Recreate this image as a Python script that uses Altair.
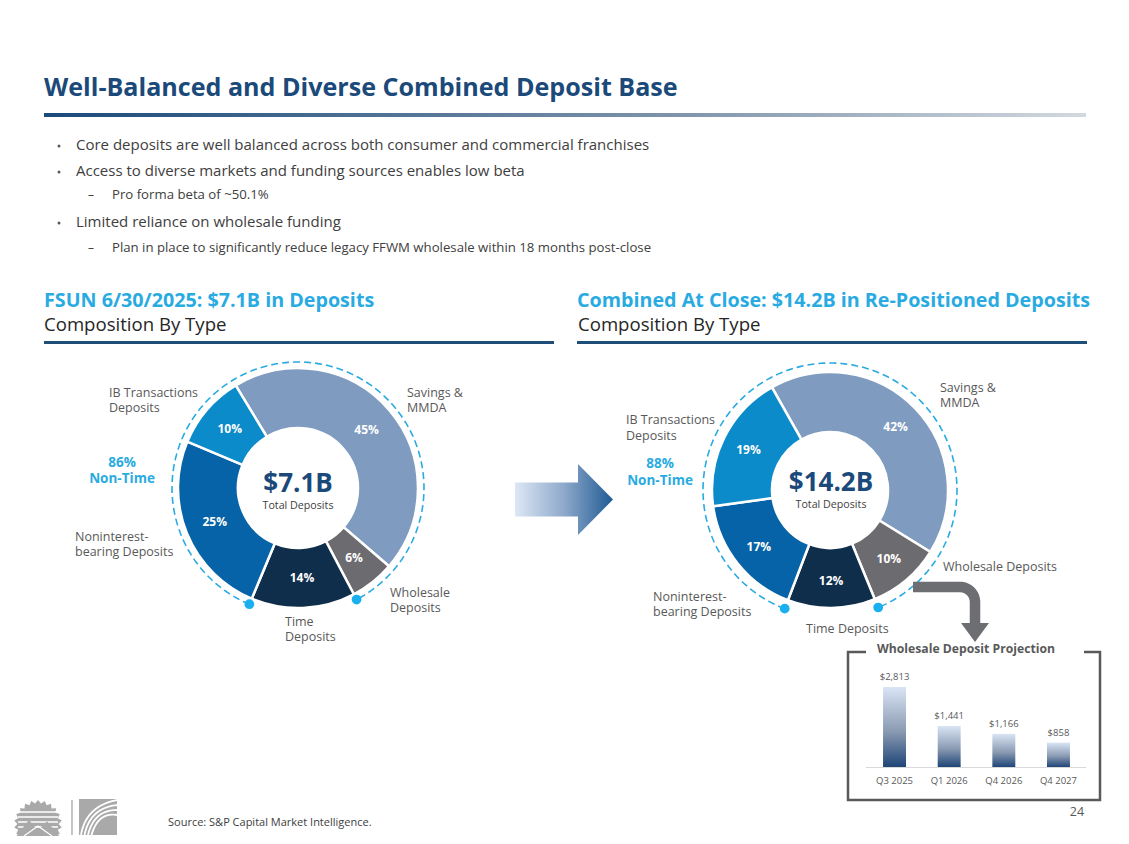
import math
import numpy as np
import pandas as pd
import altair as alt

OFF = 8
W, H = 1113, 828
FONT = "Open Sans"


def P(v):
    return v - OFF


# ---------------- data ----------------
deposit_types = ["Savings & MMDA", "Wholesale Deposits", "Time Deposits",
                 "Noninterest-bearing Deposits", "IB Transactions Deposits"]
fsun_share = [45, 6, 14, 25, 10]
combined_share = [42, 10, 12, 17, 19]
type_colors = ["#7f9bc0", "#6c6c70", "#0f2e4b", "#0763a7", "#0b8bc9"]

quarters = ["Q3 2025", "Q1 2026", "Q4 2026", "Q4 2027"]
wholesale_projection = [2813, 1441, 1166, 858]

bullet_main = [
    (145, "Core deposits are well balanced across both consumer and commercial franchises"),
    (171, "Access to diverse markets and funding sources enables low beta"),
    (222, "Limited reliance on wholesale funding"),
]
bullet_sub = [
    (195, "Pro forma beta of ~50.1%"),
    (248, "Plan in place to significantly reduce legacy FFWM wholesale within 18 months post-close"),
]

NAVY = "#1b4a7a"
SKY = "#29abe2"
GRAY = "#595959"


def text_layer(items, size, color, weight="normal", align="left", font=FONT):
    df = pd.DataFrame(items, columns=["x", "y", "t"])
    df["x"] = df["x"] - OFF
    df["y"] = df["y"] - OFF
    return alt.Chart(df).mark_text(
        font=font, fontSize=size, color=color, fontWeight=weight,
        align=align, baseline="middle"
    ).encode(
        x=alt.X("x:Q", scale=None, axis=None),
        y=alt.Y("y:Q", scale=None, axis=None),
        text="t:N",
    )


def path_layer(pts, color, width, dash=None, interp="linear"):
    df = pd.DataFrame(pts, columns=["x", "y"])
    df["x"] = df["x"] - OFF
    df["y"] = df["y"] - OFF
    df["i"] = range(len(df))
    kw = dict(color=color, strokeWidth=width, interpolate=interp, strokeCap="butt")
    if dash is not None:
        kw["strokeDash"] = dash
    return alt.Chart(df).mark_line(**kw).encode(
        x=alt.X("x:Q", scale=None, axis=None),
        y=alt.Y("y:Q", scale=None, axis=None),
        order="i:Q",
    )


def rect(x0, x1, y0, y1, fill):
    return alt.Chart().mark_rect(fill=fill).encode(
        x=alt.value(P(x0)), x2=alt.value(P(x1)), y=alt.value(P(y0)), y2=alt.value(P(y1)))


def symbol(cx, cy, shape, half, fill):
    return alt.Chart().mark_point(
        shape=shape, size=(2 * half) ** 2, filled=True, fill=fill, opacity=1, strokeWidth=0
    ).encode(x=alt.value(P(cx)), y=alt.value(P(cy)))


layers = []

# ---------------- title ----------------
layers.append(text_layer([(44, 88, "Well-Balanced and Diverse Combined Deposit Base")], 25.1, NAVY, "bold"))
title_grad = alt.Gradient(
    gradient="linear",
    stops=[alt.GradientStop(color="#1b4a7a", offset=0),
           alt.GradientStop(color="#7d93ab", offset=0.6),
           alt.GradientStop(color="#d3d9df", offset=1)],
    x1=0, x2=1, y1=0, y2=0)
layers.append(rect(44, 1086, 113, 117, title_grad))

# ---------------- bullets ----------------
bullet_dots = pd.DataFrame({"x": [59 - OFF] * len(bullet_main), "y": [y + 1 - OFF for y, _ in bullet_main]})
layers.append(alt.Chart(bullet_dots).mark_circle(size=9, color="#595959", opacity=1).encode(
    x=alt.X("x:Q", scale=None, axis=None), y=alt.Y("y:Q", scale=None, axis=None)))
layers.append(text_layer([(76, y, t) for y, t in bullet_main], 15, "#404040"))
layers.append(text_layer([(88, y, "–") for y, _ in bullet_sub], 12, "#404040"))
layers.append(text_layer([(112, y, t) for y, t in bullet_sub], 13.2, "#404040"))

# ---------------- section headers ----------------
layers.append(text_layer([(44, 301, "FSUN 6/30/2025: $7.1B in Deposits"),
                          (577, 301, "Combined At Close: $14.2B in Re-Positioned Deposits")],
                         19.7, SKY, "bold"))
layers.append(text_layer([(44, 325, "Composition By Type"), (578, 325, "Composition By Type")],
                         18.6, "#262626"))
layers.append(rect(44, 554, 341, 344, "#1f4e79"))
layers.append(rect(577, 1087, 341, 344, "#1f4e79"))


# ---------------- donuts ----------------
def donut(shares, cx, cy, r_in, r_out, start_deg, lab_r, ring_r):
    df = pd.DataFrame({
        "type": deposit_types, "share": shares, "ord": list(range(len(shares))),
        "col": type_colors, "lbl": [f"{s}%" for s in shares]})
    start = math.radians(start_deg) + 2 * math.pi
    theta = alt.Theta("share:Q", stack=True,
                      scale=alt.Scale(domain=[0, sum(shares)], range=[start, start + 2 * math.pi]))
    base = alt.Chart(df).encode(theta=theta, order=alt.Order("ord:Q"),
                                x=alt.value(P(cx)), y=alt.value(P(cy)))
    out = [
        base.mark_arc(innerRadius=r_in, outerRadius=r_out, stroke="white", strokeWidth=2.5)
        .encode(fill=alt.Fill("col:N", scale=None)),
        base.mark_text(radius=lab_r, font=FONT, fontSize=12, fontWeight="bold", color="white")
        .encode(text="lbl:N"),
    ]
    # dashed ring around the non-time share
    cum = np.cumsum([0] + list(shares)) * 360.0 / sum(shares)
    t_start = start_deg + cum[2]
    t_end = start_deg + cum[3]
    ang = np.radians(np.linspace(t_end, t_start + 360, 240))
    pts = list(zip(cx + ring_r * np.sin(ang), cy - ring_r * np.cos(ang)))
    out.append(path_layer(pts, SKY, 1.6, dash=[7, 4]))
    dots = pd.DataFrame([pts[0], pts[-1]], columns=["x", "y"]) - OFF
    out.append(alt.Chart(dots).mark_circle(size=95, color="#1ab0ef", opacity=1).encode(
        x=alt.X("x:Q", scale=None, axis=None), y=alt.Y("y:Q", scale=None, axis=None)))
    return out


layers += donut(fsun_share, 298, 488, 60, 120, -31.3, 90, 126)
layers += donut(combined_share, 830, 490, 58, 118, -29.5, 91, 127)

# centre texts
layers.append(text_layer([(298, 484, "$7.1B"), (831, 483, "$14.2B")], 26, NAVY, "bold", "center"))
layers.append(text_layer([(298, 506, "Total Deposits"), (831, 505, "Total Deposits")], 10.7, "#404040",
                         "normal", "center"))

# category labels
layers.append(text_layer([
    (109, 393, "IB Transactions"), (109, 408, "Deposits"),
    (407, 393, "Savings &"), (407, 408, "MMDA"),
    (75, 537, "Noninterest-"), (75, 552, "bearing Deposits"),
    (390, 593, "Wholesale"), (390, 608, "Deposits"),
    (285, 622, "Time"), (285, 637, "Deposits"),
    (940, 388, "Savings &"), (940, 403, "MMDA"),
    (626, 420, "IB Transactions"), (626, 436, "Deposits"),
    (653, 597, "Noninterest-"), (653, 612, "bearing Deposits"),
    (806, 629, "Time Deposits"),
    (943, 567, "Wholesale Deposits"),
], 12.5, GRAY))
layers.append(text_layer([(122, 463, "86%"), (122, 479, "Non-Time"),
                          (660, 464, "88%"), (660, 481, "Non-Time")], 13.5, SKY, "bold", "center"))

# ---------------- big arrow between donuts ----------------
arrow_grad = alt.Gradient(
    gradient="linear",
    stops=[alt.GradientStop(color="#dde7f5", offset=0),
           alt.GradientStop(color="#8ea9cb", offset=0.5),
           alt.GradientStop(color="#1f5a93", offset=1)],
    x1=0, x2=1, y1=0, y2=0)
arrow_path = "M-0.98,-0.34L0.28,-0.34L0.28,-0.71L0.98,0L0.28,0.71L0.28,0.34L-0.98,0.34Z"
layers.append(symbol(564, 499.5, arrow_path, 50, arrow_grad))

# ---------------- gray elbow arrow ----------------
elbow = [(913, 587), (960, 587)]
for a in np.linspace(0, 90, 20):
    r = math.radians(a)
    elbow.append((960 + 15 * math.sin(r), 602 - 15 * math.cos(r)))
elbow.append((975, 626))
layers.append(path_layer(elbow, "#6d6e71", 10.5))
layers.append(symbol(975, 632.5, "M-1,-0.68L1,-0.68L0,0.68Z", 14, "#6d6e71"))

# ---------------- wholesale projection inset ----------------
frame = [(866, 652), (848, 652), (848, 800), (1100, 800), (1100, 652), (1084, 652)]
layers.append(path_layer(frame, "#595959", 2.5))
layers.append(text_layer([(966, 649, "Wholesale Deposit Projection")], 12.2, GRAY, "bold", "center"))

proj = pd.DataFrame({"quarter": quarters, "amount": wholesale_projection})
xs = alt.X("quarter:N", sort=quarters, axis=None,
           scale=alt.Scale(range=[P(867.2), P(1085.8)], paddingInner=0.58, paddingOuter=0.29))
ys = alt.Y("amount:Q", axis=None, scale=alt.Scale(domain=[0, 3000], range=[P(767), P(767 - 3000 * 0.02844)]))
bar_grad = alt.Gradient(
    gradient="linear",
    stops=[alt.GradientStop(color="#d9e5f5", offset=0),
           alt.GradientStop(color="#8b9bb3", offset=0.55),
           alt.GradientStop(color="#1f4577", offset=1)],
    x1=0, x2=0, y1=0, y2=1)
layers.append(alt.Chart().mark_rule(color="#d9d9d9", strokeWidth=1).encode(
    x=alt.value(P(866)), x2=alt.value(P(1086)), y=alt.value(P(767.5))))
layers.append(alt.Chart(proj).mark_bar(fill=bar_grad).encode(x=xs, y=ys))
layers.append(alt.Chart(proj).mark_text(font=FONT, fontSize=9.5, color=GRAY, dy=-10, baseline="middle")
              .encode(x=xs, y=ys, text=alt.Text("amount:Q", format="$,d")))
layers.append(alt.Chart(proj).mark_text(font=FONT, fontSize=9.5, color=GRAY, baseline="middle")
              .encode(x=xs, y=alt.value(P(781)), text="quarter:N"))

# ---------------- footer ----------------
layers.append(text_layer([(168, 823, "Source: S&P Capital Market Intelligence.")], 11, "#404040"))
layers.append(text_layer([(1077, 812, "24")], 12.5, GRAY, "normal", "center"))

# logo (approximate)
LOGO = "#a9a9a9"
teeth = 22
gear = []
for k in range(teeth * 2):
    a = math.pi * k / teeth
    rr = 1.0 if k % 2 == 0 else 0.86
    gear.append(f"{rr * math.sin(a):.3f},{-rr * math.cos(a):.3f}")
gear_path = "M" + "L".join(gear) + "Z"
layers.append(symbol(38, 824, gear_path, 24, LOGO))
for yy in [812, 817, 822, 827]:
    layers.append(alt.Chart().mark_rule(color="white", strokeWidth=1.4).encode(
        x=alt.value(P(18)), x2=alt.value(P(58)), y=alt.value(P(yy))))
layers.append(symbol(38, 829, "M-1,0.5L-0.35,-0.35L0,0.05L0.35,-0.3L1,0.5Z", 26, LOGO))
layers.append(path_layer([(24, 836), (38, 826), (52, 836)], "white", 1.2))
layers.append(alt.Chart().mark_rule(color="#8c8c8c", strokeWidth=1).encode(
    x=alt.value(P(72)), y=alt.value(P(800)), y2=alt.value(P(835))))
layers.append(rect(79, 117, 799, 835, LOGO))
for k in range(4):
    p0 = np.array([81 + k * 3.5, 835]); p1 = np.array([86 + k * 4, 806 + k * 2]); p2 = np.array([117, 800 + k * 5])
    ts = np.linspace(0, 1, 25)
    pts = [tuple((1 - t) ** 2 * p0 + 2 * (1 - t) * t * p1 + t ** 2 * p2) for t in ts]
    layers.append(path_layer(pts, "white", 1.8))

base_df = pd.DataFrame({"a": [0]})
chart = alt.layer(*layers, data=base_df).resolve_scale(
    x="independent", y="independent", theta="independent"
).properties(
    width=W, height=H, padding=0, autosize="none", background="white"
).configure_view(strokeWidth=0)

chart.save("out.html", embed_options={"renderer": "svg", "actions": False})
